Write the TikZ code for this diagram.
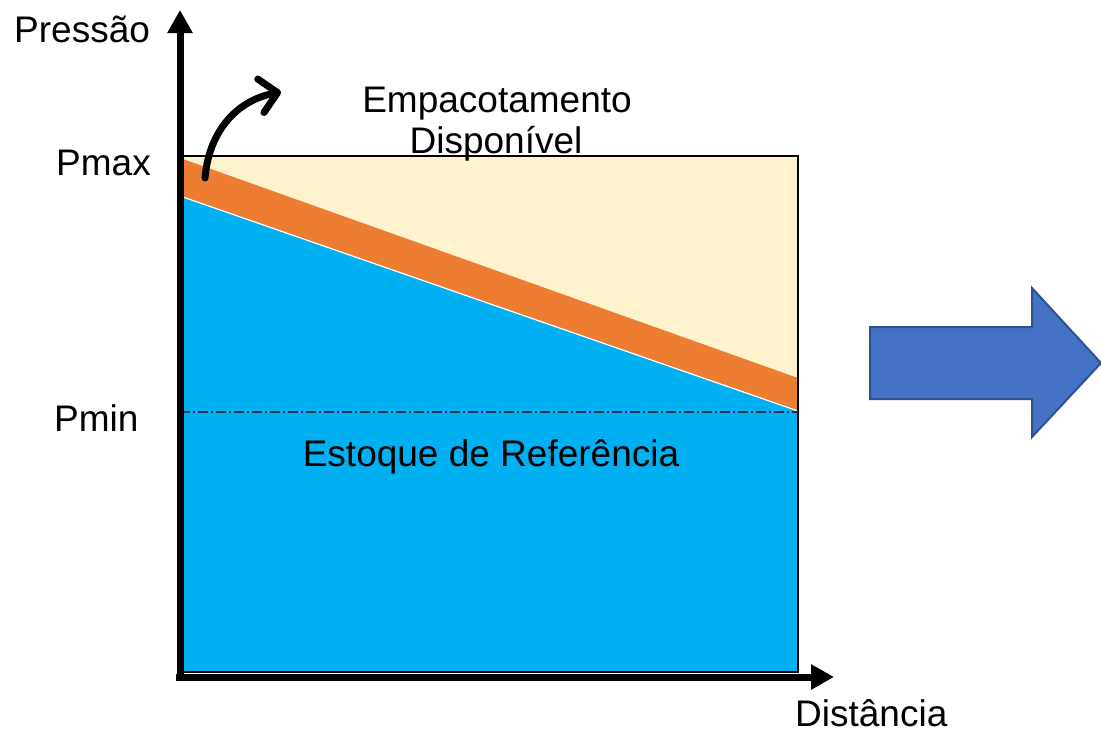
\documentclass[tikz,border=0pt]{standalone}
\usepackage{fontspec}
\setmainfont{Liberation Sans}
\usetikzlibrary{arrows.meta}
\definecolor{cream}{HTML}{FFF2CC}
\definecolor{orng}{HTML}{ED7D31}
\definecolor{sky}{HTML}{00B0F0}
\definecolor{arrblue}{HTML}{4472C4}
\definecolor{arrborder}{HTML}{2F528F}
\definecolor{dashcol}{HTML}{1F3050}
\tikzset{
  lbl/.style={inner sep=0pt, font=\fontsize{37}{41}\selectfont},
  axis/.style={line width=7pt, -{Triangle[length=23pt,width=24pt]}},
  bigarrow/.style={fill=arrblue, draw=arrborder, line width=2pt, line join=miter},
}
\begin{document}
\begin{tikzpicture}[x=1pt,y=-1pt]
\useasboundingbox (0,0) rectangle (1101,732);
% regions
\fill[cream] (180,156) -- (798,156) -- (798,378) -- (180,158) -- cycle;
\fill[orng] (180,158) -- (798,378) -- (798,411) -- (180,196) -- cycle;
\fill[sky] (180,196) -- (798,411) -- (798,672) -- (180,672) -- cycle;
\draw[white, line width=1.2pt] (180,196) -- (798,411);
\draw[black, line width=1.5pt] (180,156) rectangle (798,672);
% Pmin line
\draw[dashcol, line width=1.5pt, dash pattern=on 10pt off 3pt on 2pt off 3pt] (180,412) -- (798,412);
% axes
\coordinate (ytip) at (180,10);
\coordinate (xtip) at (834,677);
\coordinate (ybot) at (180,681);
\coordinate (xleft) at (176,677);
\draw[axis] (ybot) -- (ytip);
\draw[axis] (xleft) -- (xtip);
% curved arrow
\coordinate (cstart) at (205,178);
\coordinate (cend) at (281,92);
\draw[line width=7pt, line cap=round, -{Straight Barb[length=17pt,width=34pt,round]}]
  (cstart) .. controls (209,130) and (238,100) .. (cend);
% labels
\node[lbl, anchor=base west] (pres) at (14,42) {Pressão};
\node[lbl, anchor=base west] (pmax) at (56,175) {Pmax};
\node[lbl, anchor=base west] (pmin) at (54,431) {Pmin};
\node[lbl, anchor=base] (emp) at (497,112) {Empacotamento};
\node[lbl, anchor=base] (disp) at (496,153) {Disponível};
\node[lbl, anchor=base] (est) at (491,466) {Estoque de Referência};
\node[lbl, anchor=base west] (dist) at (795,726) {Distância};
% big blue arrow
\draw[bigarrow] (870,327) -- (1032,327) -- (1032,288) -- (1101,363) -- (1032,437) -- (1032,399) -- (870,399) -- cycle;
\end{tikzpicture}
\end{document}
